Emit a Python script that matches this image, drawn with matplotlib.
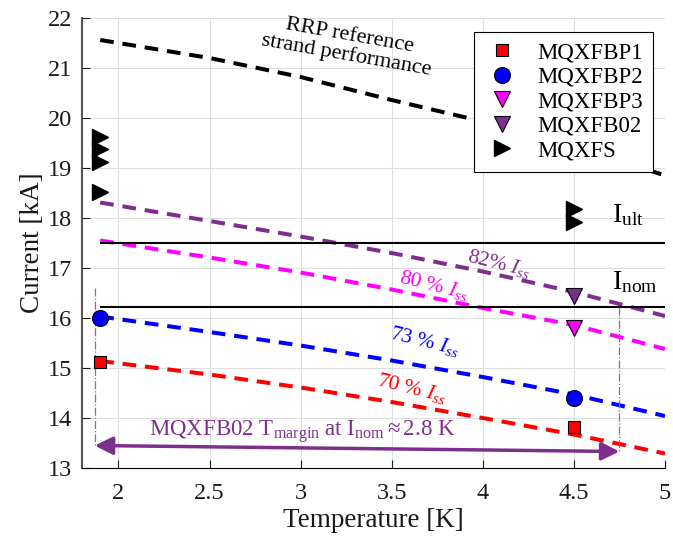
import matplotlib.pyplot as plt

plt.rcParams['font.family'] = 'Liberation Serif'
plt.rcParams['mathtext.fontset'] = 'custom'
plt.rcParams['mathtext.rm'] = 'Liberation Serif'
plt.rcParams['mathtext.it'] = 'Liberation Serif:italic'

# short sample lines (temperature in K, current in kA)
T_line = [1.9, 2.5, 3.0, 3.5, 4.0, 4.5, 5.0]
I_rrp = [21.56, 21.2, 20.82, 20.36, 19.93, 19.45, 18.85]
I_82 = [18.31, 17.94, 17.63, 17.3, 16.93, 16.52, 16.04]
I_80 = [17.55, 17.21, 16.91, 16.57, 16.2, 15.86, 15.38]
I_73 = [16.03, 15.72, 15.45, 15.15, 14.82, 14.47, 14.04]
I_70 = [15.14, 14.87, 14.61, 14.32, 14.0, 13.67, 13.29]

# magnet test results
T_bp1 = [1.9, 4.5]
I_bp1 = [15.13, 13.83]
T_bp2 = [1.9, 4.5]
I_bp2 = [16.0, 14.41]
T_bp3 = [4.5]
I_bp3 = [15.8]
T_b02 = [4.5]
I_b02 = [16.45]
T_fs = [1.9, 1.9, 1.9, 1.9, 4.5, 4.5]
I_fs = [19.63, 19.39, 19.13, 18.53, 18.19, 17.93]

I_ult = 17.5
I_nom = 16.23
T_start = 1.9
T_end = 5.0
# temperature margin arrow
T_m_lo, T_m_hi = 1.87, 4.75
I_m_lo, I_m_hi = 13.45, 13.33
I_dot_lo = 16.6

purple = '#7E2F8E'

fig = plt.figure(figsize=(6.73, 5.42), dpi=100)
ax = fig.add_axes([0.1218, 0.1365, 0.8663, 0.8303])

dash = (3.4, 2.2)
ax.plot(T_line, I_rrp, color='black', lw=2.9, dashes=dash)
ax.plot(T_line, I_82, color=purple, lw=2.9, dashes=dash)
ax.plot(T_line, I_80, color='magenta', lw=2.9, dashes=dash)
ax.plot(T_line, I_73, color='blue', lw=2.9, dashes=dash)
ax.plot(T_line, I_70, color='red', lw=2.9, dashes=dash)

ax.hlines([I_ult, I_nom], T_start, T_end, color='black', lw=1.5)

ax.plot([T_m_lo, T_m_lo], [I_dot_lo, I_m_lo], color='#9a5fb0', lw=0.9, ls='-.')
ax.plot([T_m_hi, T_m_hi], [I_nom, I_m_hi], color='#9a5fb0', lw=0.9, ls='-.')
ax.annotate('', xy=(T_m_hi, I_m_hi), xytext=(T_m_lo, I_m_lo),
            arrowprops=dict(arrowstyle='<|-|>', color=purple, lw=2.5,
                            mutation_scale=27, shrinkA=0, shrinkB=0))

h1, = ax.plot(T_bp1, I_bp1, 's', ms=9, mfc='red', mec='black', mew=0.8, ls='none')
h2, = ax.plot(T_bp2, I_bp2, 'o', ms=11.5, mfc='blue', mec='black', mew=0.8, ls='none')
h3, = ax.plot(T_bp3, I_bp3, 'v', ms=11.5, mfc='magenta', mec='black', mew=0.8, ls='none')
h4, = ax.plot(T_b02, I_b02, 'v', ms=11.5, mfc=purple, mec='black', mew=0.8, ls='none')
h5, = ax.plot(T_fs, I_fs, '>', ms=11.5, mfc='black', mec='black', ls='none')

ax.text(3.26, 21.45, 'RRP reference\nstrand performance', rotation=-10,
        ha='center', va='center', fontsize=16, linespacing=1.0)
ax.text(4.09, 17.08, r'82% $I_{ss}$', color=purple, rotation=-14,
        ha='center', va='center', fontsize=15.5)
ax.text(3.73, 16.66, r'80 % $I_{ss}$', color='magenta', rotation=-14,
        ha='center', va='center', fontsize=15.5)
ax.text(3.68, 15.54, r'73 % $I_{ss}$', color='blue', rotation=-14,
        ha='center', va='center', fontsize=15.5)
ax.text(3.61, 14.6, r'70 % $I_{ss}$', color='red', rotation=-14,
        ha='center', va='center', fontsize=15.5)
ax.text(4.71, 18.05, r'I$_{\rm ult}$', ha='left', va='center', fontsize=20)
ax.text(4.71, 16.72, r'I$_{\rm nom}$', ha='left', va='center', fontsize=20)
ax.text(3.01, 13.72, r'MQXFB02 T$_{\rm margin}$ at I$_{\rm nom}$$\approx$2.8 K',
        color=purple, ha='center', va='center', fontsize=16.5)

ax.set_xlim(1.8, 5)
ax.set_ylim(13, 22)
ax.set_xticks([2, 2.5, 3, 3.5, 4, 4.5, 5])
ax.set_xticklabels(['2', '2.5', '3', '3.5', '4', '4.5', '5'])
ax.set_yticks(range(13, 23))
ax.grid(True, color='#dedede', lw=0.8)
ax.set_axisbelow(True)
ax.tick_params(direction='in', length=6, labelsize=17.5, pad=7, colors='#1a1a1a')
ax.tick_params(axis='x', pad=11)
ax.spines['top'].set_visible(False)
ax.spines['right'].set_visible(False)
ax.spines['left'].set_color('#555555')
ax.spines['left'].set_linewidth(1.5)
ax.set_xlabel('Temperature [K]', fontsize=19.5, color='#1a1a1a', labelpad=3)
ax.set_ylabel('Current [kA]', fontsize=19.5, color='#1a1a1a', labelpad=2)

leg = ax.legend([h1, h2, h3, h4, h5], ['MQXFBP1', 'MQXFBP2', 'MQXFBP3', 'MQXFB02', 'MQXFS'],
                loc='upper right', bbox_to_anchor=(0.979, 0.969), borderaxespad=0,
                fontsize=16.5, fancybox=False, framealpha=1, edgecolor='black',
                borderpad=0.45, handlelength=1.6, handletextpad=0.7, labelspacing=0.15)
leg.get_frame().set_linewidth(0.8)

fig.savefig('out.png', dpi=100)
